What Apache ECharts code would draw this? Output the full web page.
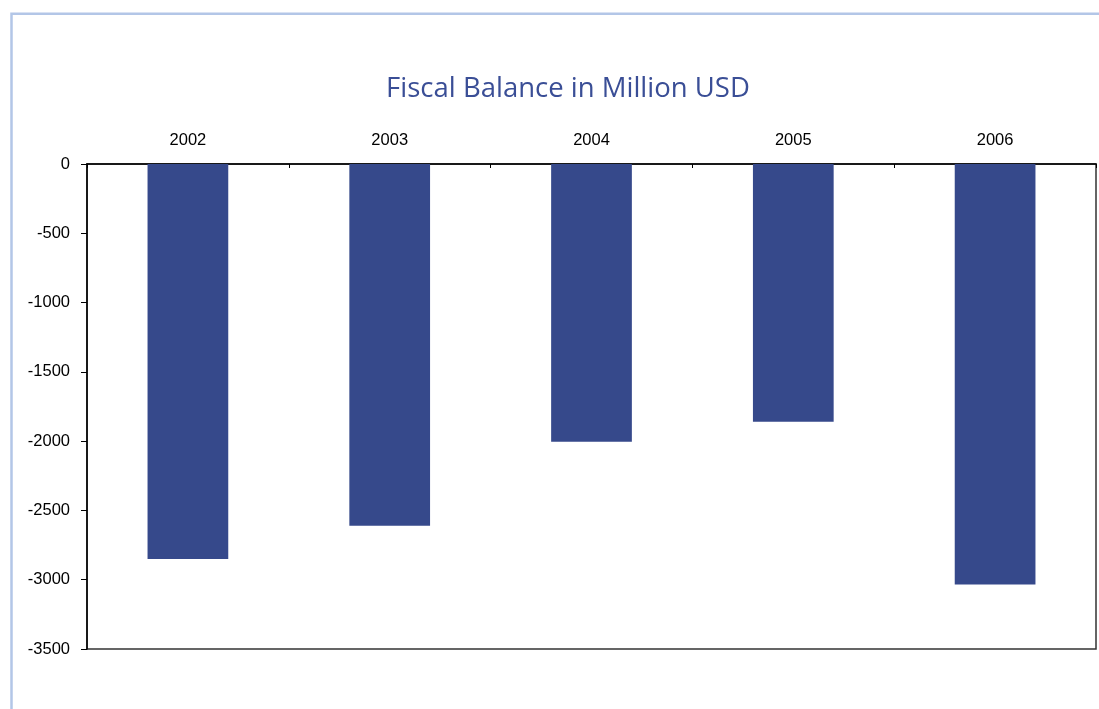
<!DOCTYPE html>
<html>
<head>
<meta charset="utf-8">
<script src="https://cdn.jsdelivr.net/npm/echarts@6/dist/echarts.min.js"></script>
<style>
  html, body { margin: 0; padding: 0; background: #ffffff; }
  #chart { width: 1099px; height: 709px; }
</style>
</head>
<body>
<div id="chart"></div>
<script>
// Fiscal balance by year, million USD
const years = ['2002', '2003', '2004', '2005', '2006'];
const fiscalBalance = [-2850, -2610, -2005, -1860, -3035];
const yTicks = { min: -3500, max: 0, step: 500 };

const chart = echarts.init(document.getElementById('chart'), null, { renderer: 'canvas' });

const frameColor = '#b3c6e7';
const labelFont = '"Liberation Sans", Arial, sans-serif';

chart.setOption({
  backgroundColor: '#ffffff',
  animation: false,
  title: {
    text: 'Fiscal Balance in Million USD',
    left: 563,
    top: 70,
    textAlign: 'center',
    textStyle: {
      fontFamily: '"Open Sans", "Noto Sans", sans-serif',
      fontWeight: 'normal',
      fontSize: 27.5,
      color: '#3a4e96'
    }
  },
  graphic: [
    {
      type: 'polyline',
      shape: { points: [[11.5, 709], [11.5, 13.8], [1099, 13.8]] },
      style: { stroke: frameColor, lineWidth: 2.5, fill: null },
      silent: true
    }
  ],
  grid: {
    left: 87,
    right: 3,
    top: 164,
    bottom: 60,
    show: true,
    borderColor: '#333333',
    borderWidth: 1.5,
    backgroundColor: 'transparent'
  },
  xAxis: {
    type: 'category',
    data: years,
    position: 'top',
    boundaryGap: true,
    axisLine: { show: true, lineStyle: { color: '#000000', width: 1.5 } },
    axisTick: { show: true, inside: true, length: 4, alignWithLabel: false, lineStyle: { color: '#000000', width: 1 } },
    axisLabel: {
      margin: 15,
      fontFamily: labelFont,
      fontSize: 16.5,
      color: '#000000'
    },
    splitLine: { show: false }
  },
  yAxis: {
    type: 'value',
    min: yTicks.min,
    max: yTicks.max,
    interval: yTicks.step,
    axisLine: { show: true, onZero: false, lineStyle: { color: '#000000', width: 1.5 } },
    axisTick: { show: true, inside: false, length: 6, lineStyle: { color: '#000000', width: 1 } },
    axisLabel: {
      margin: 17,
      fontFamily: labelFont,
      fontSize: 16.5,
      color: '#000000',
      formatter: (v) => String(v)
    },
    splitLine: { show: false }
  },
  series: [
    {
      type: 'bar',
      data: fiscalBalance,
      barWidth: '40%',
      itemStyle: { color: '#36498b' }
    }
  ]
});
</script>
</body>
</html>
